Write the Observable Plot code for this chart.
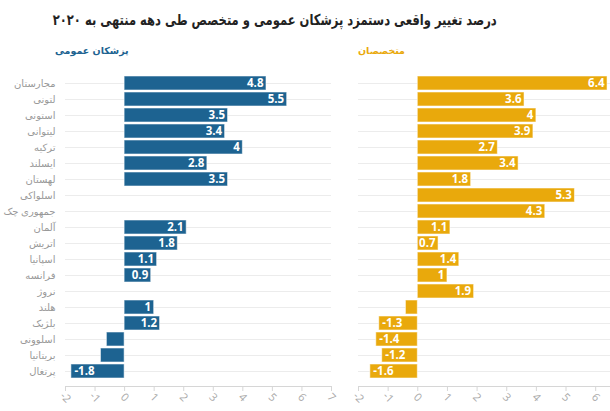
<!DOCTYPE html>
<html><head><meta charset="utf-8">
<script src="https://cdn.jsdelivr.net/npm/d3@7"></script>
<script src="https://cdn.jsdelivr.net/npm/@observablehq/plot@0.6"></script>
<style>
body{margin:0;background:#fff;font-family:"DejaVu Sans",sans-serif;}
#wrap{position:relative;width:610px;height:411px;overflow:hidden;}
#title{position:absolute;top:9px;right:113px;direction:rtl;font-weight:bold;font-size:15px;color:#222;white-space:nowrap;line-height:22px;transform-origin:right center;}
.sub{position:absolute;top:45px;font-size:9.5px;font-weight:bold;direction:rtl;white-space:nowrap;}
#left{position:absolute;left:0;top:0;}
#right{position:absolute;left:340px;top:0;}
</style></head><body>
<div id="wrap">
<div id="left"></div>
<div id="right"></div>
<div id="title">درصد تغییر واقعی دستمزد پزشکان عمومی و متخصص طی دهه منتهی به ۲۰۲۰</div>
<div class="sub" id="subL" style="left:55px;color:#1d6391;">پزشکان عمومی</div>
<div class="sub" id="subR" style="left:358px;color:#e9a90c;">متخصصان</div>
</div>
<script>
const countries = ["مجارستان","لتونی","استونی","لیتوانی","ترکیه","ایسلند","لهستان","اسلواکی","جمهوری چک","آلمان","اتریش","اسپانیا","فرانسه","نروژ","هلند","بلژیک","اسلوونی","بریتانیا","پرتغال"];
const gpValues = [4.8,5.5,3.5,3.4,4,2.8,3.5,null,null,2.1,1.8,1.1,0.9,null,1,1.2,-0.6,-0.8,-1.8];
const specValues = [6.4,3.6,4,3.9,2.7,3.4,1.8,5.3,4.3,1.1,0.7,1.4,1,1.9,-0.4,-1.3,-1.4,-1.2,-1.6];
const gpTicks = [-2,-1,0,1,2,3,4,5,6,7];
const specTicks = [-2,-1,0,1,2,3,4,5,6];

const blue = "#1d6391", gold = "#e9a90c";
const showLabel = v => v >= 0.7 || v <= -1;

function panel(values, color, domain, ticks, width, ml, mr, withY) {
  const data = countries.map((c, i) => ({country: c, value: values[i]})).filter(d => d.value != null);
  const labeled = data.filter(d => showLabel(d.value));
  const marks = [
    Plot.ruleY(countries, {y: d => d, stroke: "#ececec"}),
    Plot.barX(data, {x: "value", y: "country", fill: color, stroke: "#ffffff", strokeOpacity: 0.55, strokeWidth: 1}),
    Plot.text(labeled.filter(d => d.value > 0), {x: "value", y: "country", text: d => String(d.value), textAnchor: "end", dx: -3, fill: "white", fontWeight: "bold", fontSize: 11.5, fontFamily: "Open Sans, DejaVu Sans, sans-serif"}),
    Plot.text(labeled.filter(d => d.value < 0), {x: "value", y: "country", text: d => String(d.value), textAnchor: "start", dx: 3, fill: "white", fontWeight: "bold", fontSize: 11.5, fontFamily: "Open Sans, DejaVu Sans, sans-serif"}),
    Plot.axisX({ticks, label: null, tickSize: 5, tickRotate: 45, textAnchor: "middle", stroke: "#d6d6d6", fill: "#aaaaaa", fontSize: 11, tickPadding: 6, tickFormat: d => String(d)}),
    Plot.frame({anchor: "bottom", stroke: "#d6d6d6"})
  ];
  if (withY) marks.push(Plot.axisY({label: null, tickSize: 0, tickPadding: 10, fill: "#999999", fontSize: 10, textAnchor: "end"}));
  return Plot.plot({
    width, height: 411,
    marginTop: 67.5, marginBottom: 25, marginLeft: ml, marginRight: mr,
    x: {domain, axis: null},
    y: {domain: countries, padding: 0.14, axis: null},
    style: {fontFamily: "Open Sans, DejaVu Sans, sans-serif", background: "transparent", overflow: "visible"},
    marks
  });
}

document.getElementById("left").appendChild(panel(gpValues, blue, [-2, 7], gpTicks, 340, 65, 9, true));
document.getElementById("right").appendChild(panel(specValues, gold, [-2, 6.5], specTicks, 270, 18, 0, false));

// squeeze the title horizontally to the reference width (about 444px)
const t = document.getElementById("title");
const w = t.getBoundingClientRect().width;
t.style.transform = "scaleX(" + (444 / w).toFixed(4) + ")";
</script>
</body></html>
